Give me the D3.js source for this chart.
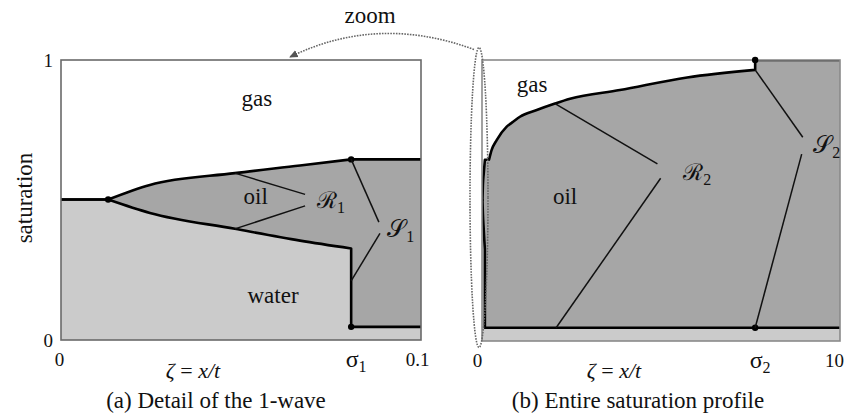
<!DOCTYPE html>
<html>
<head>
<meta charset="utf-8">
<script src="https://cdn.jsdelivr.net/npm/d3@7"></script>
</head>
<body style="margin:0">
<svg id="chart" width="845" height="420"></svg>
<script>
// ---------------- data ----------------
const leftSat = 0.502;          // left state saturation (water = oil boundary)
const waterRight = 0.047;       // water saturation right of the 1-shock
const sigma1 = 0.0806;          // 1-shock speed
const sigma2 = 7.63;            // 2-shock speed
// 1-rarefaction (R1) : upper (water+oil) and lower (water) boundaries
const zetaR1  = [0.0131, 0.0247, 0.0483, 0.0664, 0.0806];
const r1Upper = [0.502, 0.554, 0.596, 0.623, 0.645];
const r1Lower = [0.502, 0.454, 0.397, 0.355, 0.327];
// 2-rarefaction (R2) : upper boundary
const zetaR2  = [0.196, 0.27, 0.41, 0.69, 0.87, 1.06, 1.53, 2.04, 2.46, 3.85, 5.73, 7.63];
const r2Upper = [0.645, 0.68, 0.715, 0.763, 0.780, 0.798, 0.822, 0.845, 0.862, 0.893, 0.938, 0.965];
// tick labels
const ticksA = [{v: 0, t: "0"}, {v: sigma1, t: "σ", sub: "1"}, {v: 0.1, t: "0.1"}];
const ticksB = [{v: 0, t: "0"}, {v: sigma2, t: "σ", sub: "2"}, {v: 10, t: "10"}];
const yTicks = [{v: 0, t: "0"}, {v: 1, t: "1"}];

// ---------------- helpers ----------------
const FONT = "Liberation Serif";
const zip = (a, b) => a.map((d, i) => [d, b[i]]);
const svg = d3.select("#chart");
const LIGHT = "#cbcbcb", DARK = "#a6a6a6";

const upperSegs = [
  {pts: [[0, leftSat], [zetaR1[0], leftSat]], curve: d3.curveLinear},
  {pts: zip(zetaR1, r1Upper), curve: d3.curveMonotoneX},
  {pts: [[sigma1, r1Upper[r1Upper.length - 1]], [zetaR2[0], r2Upper[0]]], curve: d3.curveLinear},
  {pts: zip(zetaR2, r2Upper), curve: d3.curveMonotoneX},
  {pts: [[sigma2, r2Upper[r2Upper.length - 1]], [sigma2, 1], [10, 1]], curve: d3.curveLinear}
];
const lowerSegs = [
  {pts: [[0, leftSat], [zetaR1[0], leftSat]], curve: d3.curveLinear},
  {pts: zip(zetaR1, r1Lower), curve: d3.curveMonotoneX},
  {pts: [[sigma1, r1Lower[r1Lower.length - 1]], [sigma1, waterRight], [10, waterRight]], curve: d3.curveLinear}
];

function segPath(segs, x, y) {
  return segs.map((s, i) => {
    const p = d3.line().x(d => x(d[0])).y(d => y(d[1])).curve(s.curve)(s.pts);
    return i === 0 ? p : "L" + p.slice(1);
  }).join("");
}
function fillPath(segs, x, y) {
  const first = segs[0].pts[0], lastSeg = segs[segs.length - 1];
  const last = lastSeg.pts[lastSeg.pts.length - 1];
  return segPath(segs, x, y) + `L${x(last[0])},${y(0)}L${x(first[0])},${y(0)}Z`;
}

function panel(id, x, y, opts) {
  const [x0, x1] = x.range(), [yb, yt] = y.range();
  const clipId = "clip-" + id;
  svg.append("clipPath").attr("id", clipId)
    .append("rect").attr("x", x0).attr("y", yt).attr("width", x1 - x0).attr("height", yb - yt);
  const g = svg.append("g").attr("clip-path", `url(#${clipId})`);
  g.append("rect").attr("x", x0).attr("y", yt).attr("width", x1 - x0).attr("height", yb - yt).attr("fill", "#fff");
  g.append("path").attr("d", fillPath(upperSegs, x, y)).attr("fill", DARK);
  g.append("path").attr("d", fillPath(lowerSegs, x, y)).attr("fill", LIGHT);
  g.append("path").attr("d", segPath(upperSegs, x, y)).attr("fill", "none")
    .attr("stroke", "#000").attr("stroke-width", 2.6).attr("stroke-linejoin", "round");
  g.append("path").attr("d", segPath(lowerSegs, x, y)).attr("fill", "none")
    .attr("stroke", "#000").attr("stroke-width", 2.6).attr("stroke-linejoin", "round");
  // frame
  svg.append("rect").attr("x", x0).attr("y", yt).attr("width", x1 - x0).attr("height", yb - yt)
    .attr("fill", "none").attr("stroke", opts.frame).attr("stroke-width", 1.6);
  // dots
  svg.append("g").selectAll("circle").data(opts.dots).join("circle")
    .attr("cx", d => x(d[0])).attr("cy", d => y(d[1])).attr("r", 3.2).attr("fill", "#000");
  // x axis (labels only)
  const ax = svg.append("g").attr("transform", `translate(0,${yb + 5})`)
    .call(d3.axisBottom(x).tickValues(opts.ticks.map(d => d.v)).tickSize(0)
      .tickFormat((v, i) => opts.ticks[i].t));
  ax.select(".domain").remove();
  ax.selectAll("text").style("font-family", FONT).style("font-size", "19px")
    .attr("fill", "#111").attr("dy", "0.95em")
    .each(function (v, i) {
      const t = opts.ticks[i];
      const s = d3.select(this);
      s.attr("dx", opts.tickDx[i]);
      if (t.sub) {
        s.text(null).attr("text-anchor", "start").attr("dx", -6)
          .style("font-size", "24px").attr("dy", "0.8em");
        s.append("tspan").text(t.t);
        s.append("tspan").text(t.sub).style("font-size", "16px").attr("dy", 5);
      }
    });
  return g;
}

// ---------------- scales ----------------
const xA = d3.scaleLinear().domain([0, 0.1]).range([61, 421]);
const yA = d3.scaleLinear().domain([0, 1]).range([340, 60]);
const xB = d3.scaleLinear().domain([0, 10]).range([482, 840]);
const yB = d3.scaleLinear().domain([0, 1]).range([341, 60]);

panel("a", xA, yA, {
  frame: "#6a6a6a",
  dots: [[zetaR1[0], leftSat], [sigma1, r1Upper[r1Upper.length - 1]], [sigma1, waterRight]],
  ticks: ticksA, tickDx: [-2, 0, -4]
});
panel("b", xB, yB, {
  frame: "#8a8a8a",
  dots: [[sigma2, 1], [sigma2, waterRight]],
  ticks: ticksB, tickDx: [-5, 0, -6]
});

// y ticks (left panel)
const ay = svg.append("g").attr("transform", `translate(${xA(0) - 5},0)`)
  .call(d3.axisLeft(yA).tickValues(yTicks.map(d => d.v)).tickSize(0).tickFormat((v, i) => yTicks[i].t));
ay.select(".domain").remove();
ay.selectAll("text").style("font-family", FONT).style("font-size", "19px").attr("fill", "#111");

// ---------------- wave annotation lines ----------------
const annot = svg.append("g").attr("stroke", "#111").attr("stroke-width", 1.5).attr("fill", "none");
function seg(x, y, a, b) {
  annot.append("line").attr("x1", x(a[0])).attr("y1", y(a[1])).attr("x2", x(b[0])).attr("y2", y(b[1]));
}
// R1
seg(xA, yA, [zetaR1[2], r1Upper[2]], [0.0678, 0.520]);
seg(xA, yA, [zetaR1[2], r1Lower[2]], [0.0678, 0.479]);
// S1
seg(xA, yA, [sigma1, r1Upper[r1Upper.length - 1]], [0.0883, 0.421]);
seg(xA, yA, [sigma1, 0.211], [0.0886, 0.381]);
// R2
seg(xB, yB, [zetaR2[7], r2Upper[7]], [4.90, 0.630]);
seg(xB, yB, [2.07, waterRight], [4.99, 0.579]);
// S2
seg(xB, yB, [sigma2, r2Upper[r2Upper.length - 1]], [8.96, 0.725]);
seg(xB, yB, [sigma2, waterRight], [8.93, 0.665]);

// ---------------- text labels ----------------
function label(x, y, txt, opts = {}) {
  const t = svg.append("text").attr("x", x).attr("y", y)
    .style("font-family", FONT).style("font-size", (opts.size || 23) + "px").attr("fill", "#111")
    .attr("text-anchor", opts.anchor || "middle");
  if (opts.sub) {
    t.append("tspan").text(txt);
    t.append("tspan").text(opts.sub).style("font-size", "16px").attr("dy", 5);
  } else t.text(txt);
  return t;
}
label(xA(0.0544), yA(0.835), "gas");
label(xA(0.0541), yA(0.486), "oil");
label(xA(0.0589), yA(0.132), "water");
label(xA(0.0711), yA(0.471), "ℛ", {anchor: "start", sub: "1", size: 23});
label(xA(0.0906), yA(0.368), "𝒮", {anchor: "start", sub: "1", size: 24});
label(xB(1.40), yB(0.886), "gas");
label(xB(2.32), yB(0.488), "oil");
label(xB(5.62), yB(0.573), "ℛ", {anchor: "start", sub: "2", size: 23});
label(xB(9.25), yB(0.668), "𝒮", {anchor: "start", sub: "2", size: 24});

// axis titles & captions
function zetaTitle(cx) {
  const t = svg.append("text").attr("x", cx).attr("y", 378).attr("text-anchor", "middle")
    .style("font-family", FONT).style("font-size", "22px").attr("fill", "#111");
  t.append("tspan").text("ζ").style("font-style", "italic");
  t.append("tspan").text(" = ");
  t.append("tspan").text("x/t").style("font-style", "italic");
}
zetaTitle(193);
zetaTitle(614);
label(216, 408, "(a) Detail of the 1-wave");
label(638, 408, "(b) Entire saturation profile");
svg.append("text").attr("transform", "translate(32,198) rotate(-90)").attr("text-anchor", "middle")
  .style("font-family", FONT).attr("fill", "#111").style("font-size", "23px").text("saturation");

// ---------------- zoom annotation ----------------
const cx = xB(0) - 3, cy = (yB(1) + yB(0)) / 2 - 3;
svg.append("ellipse").attr("cx", cx).attr("cy", cy).attr("rx", 9).attr("ry", 150)
  .attr("fill", "none").attr("stroke", "#666").attr("stroke-width", 1.6).attr("stroke-dasharray", "1.6,1.2");
svg.append("defs").append("marker").attr("id", "ah").attr("viewBox", "0 0 10 10")
  .attr("refX", 8).attr("refY", 5).attr("markerWidth", 6).attr("markerHeight", 6).attr("orient", "auto")
  .append("path").attr("d", "M0,1L9,5L0,9Z").attr("fill", "#555");
const sx = cx - 5, sy = cy - 150 + 2, ex = xA(0.0636), ey = yA(1) - 3;
const p = d3.path(); p.moveTo(sx, sy); p.quadraticCurveTo(378, 14, ex, ey);
svg.append("path").attr("d", p.toString()).attr("fill", "none").attr("stroke", "#666")
  .attr("stroke-width", 1.6).attr("stroke-dasharray", "1.6,1.2").attr("marker-end", "url(#ah)");
label(370, 23, "zoom");
</script>
</body>
</html>
